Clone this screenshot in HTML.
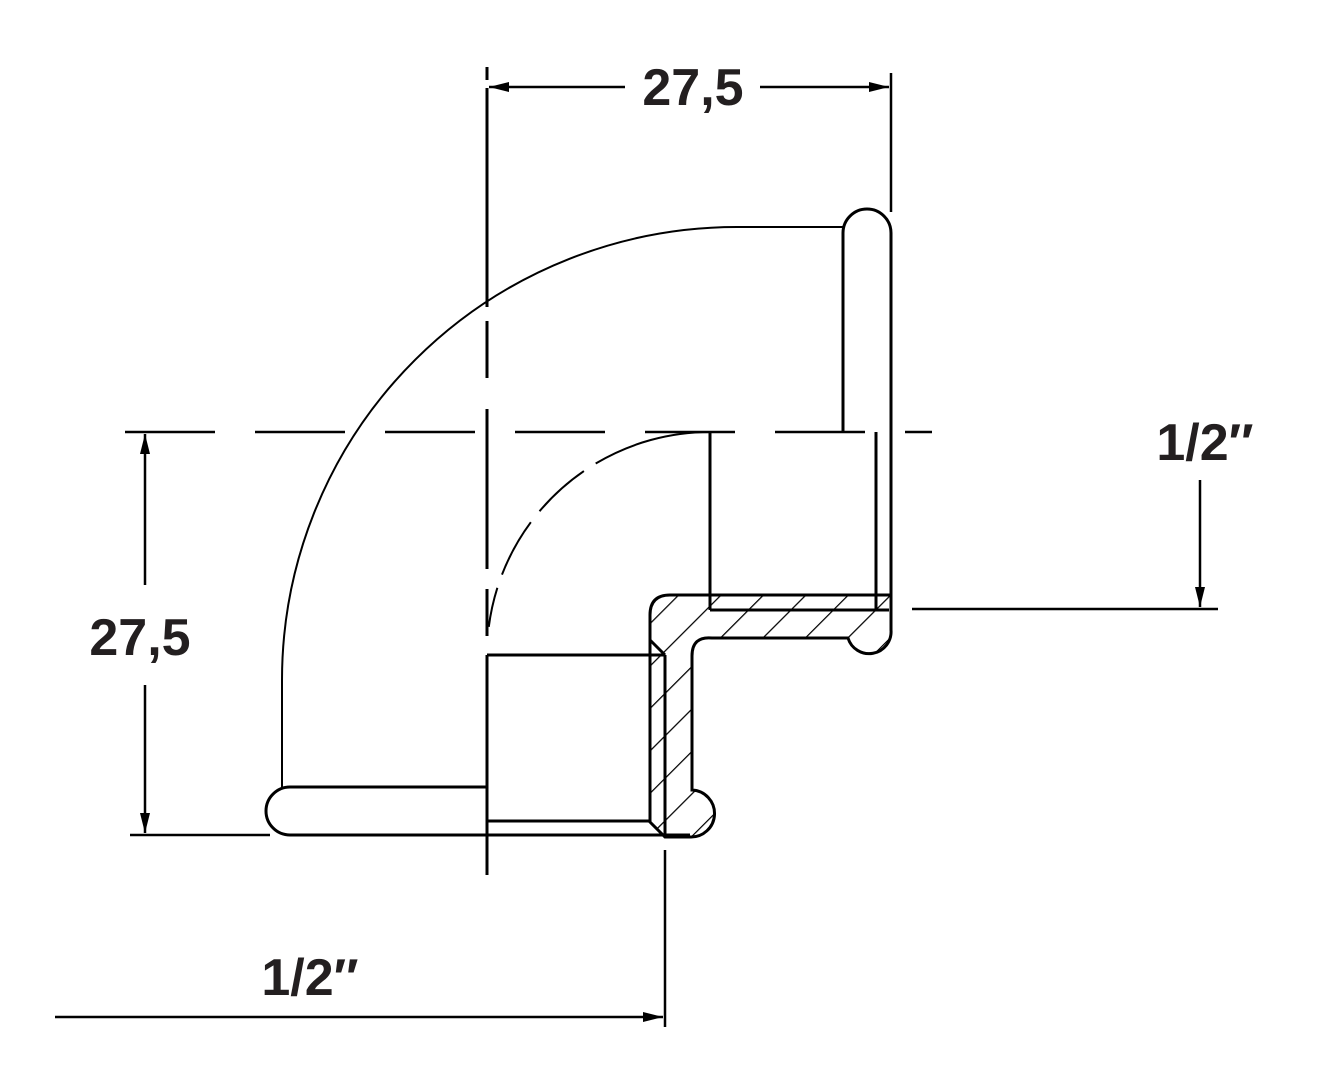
<!DOCTYPE html>
<html><head><style>
html,body{margin:0;padding:0;background:#fff}
svg{display:block}
text{font-family:"Liberation Sans",sans-serif;font-weight:bold;fill:#231f20}
</style></head><body>
<svg width="1335" height="1080" viewBox="0 0 1335 1080" xmlns="http://www.w3.org/2000/svg">
<defs>
<pattern id="h" width="30" height="30" patternUnits="userSpaceOnUse" patternTransform="rotate(45)">
<line x1="0" y1="0" x2="0" y2="30" stroke="#000" stroke-width="2.5"/>
</pattern>
<marker id="a" viewBox="0 0 20 10" refX="20" refY="5" markerWidth="20" markerHeight="10" markerUnits="userSpaceOnUse" orient="auto-start-reverse">
<path d="M0,0 L20,5 L0,10 Z" fill="#000"/>
</marker>
</defs>
<g stroke="#000" fill="none" stroke-width="3">
<!-- center lines -->
<line x1="125" y1="432" x2="932" y2="432" stroke-dasharray="90,40" stroke-width="2.5"/>
<path d="M487,67 V80 M487,88 V307 M487,321 V378 M487,409 V569 M487,589 V636 M487,655 V875" stroke-width="3"/>
<!-- outer body -->
<path d="M843,227 H737 A455,453 0 0 0 282,680 V787" stroke-width="2"/>
<path d="M843,432 V233 A24,24 0 0 1 891,233 V620"/>
<path d="M487,787 H290 A24,24 0 0 0 290,835 H690"/>
<!-- inner arc -->
<path d="M710,432 A223,223 0 0 0 487,655" stroke-width="2" stroke-dasharray="120,14,60,14,60,14,40"/>
<line x1="710" y1="432" x2="710" y2="598"/>
<line x1="876" y1="432" x2="876" y2="610"/>
<line x1="487" y1="655" x2="665" y2="655"/>
<line x1="487" y1="821" x2="650" y2="821"/>
<!-- section -->
<path d="M670,595 H891 V630 A22,22 0 0 1 848,638 H712 Q692,636 692,656 V790 A22,22 0 0 1 690,837 H665 L650,822 V615 Q650,595 670,595 Z" fill="url(#h)"/>
<line x1="665" y1="655" x2="665" y2="837"/>
<line x1="650" y1="640" x2="665" y2="655"/>
<line x1="710" y1="610" x2="889" y2="610"/>
<line x1="710" y1="598" x2="710" y2="610"/>
<!-- dims -->
<line x1="891" y1="73" x2="891" y2="212" stroke-width="2.5"/>
<line x1="489" y1="87" x2="625" y2="87" stroke-width="2.5" marker-start="url(#a)"/>
<line x1="760" y1="87" x2="889" y2="87" stroke-width="2.5" marker-end="url(#a)"/>
<line x1="130" y1="835" x2="270" y2="835" stroke-width="2.5"/>
<line x1="145" y1="434" x2="145" y2="585" stroke-width="2.5" marker-start="url(#a)"/>
<line x1="145" y1="685" x2="145" y2="833" stroke-width="2.5" marker-end="url(#a)"/>
<line x1="912" y1="609" x2="1218" y2="609" stroke-width="2.5"/>
<line x1="1200" y1="480" x2="1200" y2="607" stroke-width="2.5" marker-end="url(#a)"/>
<line x1="665" y1="850" x2="665" y2="1027" stroke-width="2.5"/>
<line x1="55" y1="1017" x2="663" y2="1017" stroke-width="2.5" marker-end="url(#a)"/>
</g>
<text x="693" y="105" font-size="52" text-anchor="middle">27,5</text>
<text x="140" y="655" font-size="52" text-anchor="middle">27,5</text>
<text x="1205" y="460" font-size="52" text-anchor="middle">1/2″</text>
<text x="310" y="995" font-size="52" text-anchor="middle">1/2″</text>
</svg>
</body></html>
